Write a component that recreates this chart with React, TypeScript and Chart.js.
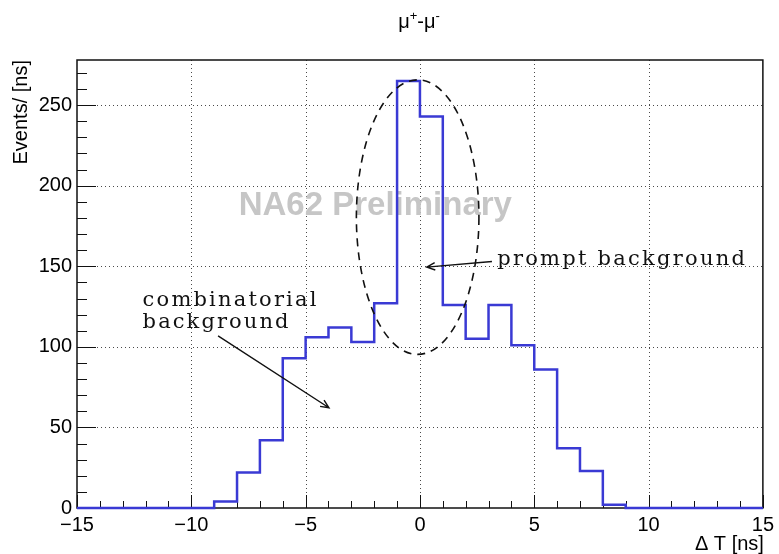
import { useEffect, useRef } from 'react';
import { Chart, registerables } from 'chart.js';

Chart.register(...registerables);

// ΔT histogram, 1 ns bins from -15 ns to +15 ns
const binLowEdges = [
  -15, -14, -13, -12, -11, -10, -9, -8, -7, -6, -5, -4, -3, -2, -1,
  0, 1, 2, 3, 4, 5, 6, 7, 8, 9, 10, 11, 12, 13, 14,
];
const binWidth = 1;
const eventCounts = [
  0, 0, 0, 0, 0, 0, 4, 22, 42, 93, 106, 112, 103, 127, 265,
  243, 126, 105, 126, 101, 86, 37, 23, 2, 0, 0, 0, 0, 0, 0,
];

const xRange = [-15, 15];
const yRange = [0, 278];
const xTickValues = [-15, -10, -5, 0, 5, 10, 15];
const yTickValues = [0, 50, 100, 150, 200, 250];
const xMinorStep = 1;
const yMinorStep = 10;

const plotTitle = ['μ', '+', '-', 'μ', '-'];
const plotTitleSup = [false, true, false, false, true];
const xTitle = 'Δ T [ns]';
const yTitle = 'Events/ [ns]';
const watermark = 'NA62 Preliminary';

// annotation anchors in data units (ns, events)
const promptEllipse = { cx: -0.1, cy: 180.5, rx: 2.68, ry: 85.2 };
const promptArrow = { from: [3.15, 153], to: [0.3, 149.5] };
const promptLabel = { text: 'prompt background', x: 3.38, y: 150.5 };
const combArrow = { from: [-8.83, 106.8], to: [-3.98, 62.2] };
const combLabel = [
  { text: 'combinatorial', x: -12.13, y: 125.4 },
  { text: 'background', x: -12.13, y: 111.4 },
];
const watermarkPos = { x: -7.93, y: 182.1 };

const SANS = '"Liberation Sans", Arial, Helvetica, sans-serif';
const SERIF = '"DejaVu Serif", "Liberation Serif", serif';
const HIST_BLUE = '#3a3ad4';

function drawArrow(ctx: CanvasRenderingContext2D, x0: number, y0: number, x1: number, y1: number) {
  ctx.beginPath();
  ctx.moveTo(x0, y0);
  ctx.lineTo(x1, y1);
  const ang = Math.atan2(y1 - y0, x1 - x0);
  const len = 9;
  const spread = 0.42;
  ctx.moveTo(x1 - len * Math.cos(ang - spread), y1 - len * Math.sin(ang - spread));
  ctx.lineTo(x1, y1);
  ctx.lineTo(x1 - len * Math.cos(ang + spread), y1 - len * Math.sin(ang + spread));
  ctx.stroke();
}

function fitText(ctx: CanvasRenderingContext2D, text: string, x: number, y: number, width: number) {
  const c = ctx as any;
  c.letterSpacing = '0px';
  const w = ctx.measureText(text).width;
  const sp = (width - w) / text.length;
  c.letterSpacing = `${sp}px`;
  ctx.fillText(text, x, y);
  c.letterSpacing = '0px';
}

const rootStyle = {
  id: 'rootStyle',
  beforeDatasetsDraw(chart: any) {
    const { ctx, chartArea: a, scales } = chart;
    const xs = scales.x;
    const ys = scales.y;
    ctx.save();

    // dotted grid at the major ticks
    ctx.strokeStyle = '#4a4a4a';
    ctx.lineWidth = 1;
    ctx.setLineDash([1, 3]);
    ctx.beginPath();
    for (const v of xTickValues) {
      if (v <= xRange[0] || v >= xRange[1]) continue;
      const px = Math.round(xs.getPixelForValue(v)) + 0.5;
      ctx.moveTo(px, a.top);
      ctx.lineTo(px, a.bottom);
    }
    for (const v of yTickValues) {
      if (v <= yRange[0] || v >= yRange[1]) continue;
      const py = Math.round(ys.getPixelForValue(v)) + 0.5;
      ctx.moveTo(a.left, py);
      ctx.lineTo(a.right, py);
    }
    ctx.stroke();
    ctx.setLineDash([]);

    // watermark
    ctx.fillStyle = '#c6c6c6';
    ctx.font = `bold 33px ${SANS}`;
    ctx.textAlign = 'left';
    ctx.textBaseline = 'alphabetic';
    ctx.fillText(watermark, xs.getPixelForValue(watermarkPos.x), ys.getPixelForValue(watermarkPos.y));

    // frame
    ctx.strokeStyle = '#111';
    ctx.lineWidth = 1.5;
    ctx.strokeRect(a.left, a.top, a.right - a.left, a.bottom - a.top);

    // inward ticks on the left and bottom axes
    ctx.lineWidth = 1;
    ctx.strokeStyle = '#111';
    ctx.beginPath();
    for (let v = yRange[0]; v <= yRange[1]; v += yMinorStep) {
      const py = Math.round(ys.getPixelForValue(v)) + 0.5;
      const major = yTickValues.includes(v);
      ctx.moveTo(a.left, py);
      ctx.lineTo(a.left + (major ? 19 : 10), py);
    }
    for (let v = xRange[0]; v <= xRange[1]; v += xMinorStep) {
      const px = Math.round(xs.getPixelForValue(v)) + 0.5;
      const major = xTickValues.includes(v);
      ctx.moveTo(px, a.bottom);
      ctx.lineTo(px, a.bottom - (major ? 13 : 7));
    }
    ctx.stroke();
    ctx.restore();
  },
  afterDatasetsDraw(chart: any) {
    const { ctx, chartArea: a, scales } = chart;
    const xs = scales.x;
    const ys = scales.y;
    const X = (v: number) => xs.getPixelForValue(v);
    const Y = (v: number) => ys.getPixelForValue(v);
    ctx.save();

    // dashed ellipse around the prompt peak
    ctx.strokeStyle = '#111';
    ctx.lineWidth = 1.6;
    ctx.setLineDash([8, 6]);
    const ecx = X(promptEllipse.cx);
    const ecy = Y(promptEllipse.cy);
    const erx = X(promptEllipse.cx + promptEllipse.rx) - ecx;
    const ery = ecy - Y(promptEllipse.cy + promptEllipse.ry);
    ctx.beginPath();
    ctx.ellipse(ecx, ecy, erx, ery, 0, 0, Math.PI * 2);
    ctx.stroke();
    ctx.setLineDash([]);

    // arrows
    ctx.lineWidth = 1.4;
    drawArrow(ctx, X(promptArrow.from[0]), Y(promptArrow.from[1]), X(promptArrow.to[0]), Y(promptArrow.to[1]));
    drawArrow(ctx, X(combArrow.from[0]), Y(combArrow.from[1]), X(combArrow.to[0]), Y(combArrow.to[1]));

    // labels
    ctx.fillStyle = '#111';
    ctx.font = `21px ${SERIF}`;
    ctx.textAlign = 'left';
    ctx.textBaseline = 'alphabetic';
    fitText(ctx, promptLabel.text, X(promptLabel.x), Y(promptLabel.y), 250);
    fitText(ctx, combLabel[0].text, X(combLabel[0].x), Y(combLabel[0].y), 176);
    fitText(ctx, combLabel[1].text, X(combLabel[1].x), Y(combLabel[1].y), 148);

    // plot title
    ctx.fillStyle = '#000';
    const big = `20px ${SANS}`;
    const small = `13px ${SANS}`;
    let total = 0;
    const widths: number[] = [];
    plotTitle.forEach((t, i) => {
      ctx.font = plotTitleSup[i] ? small : big;
      const w = ctx.measureText(t).width;
      widths.push(w);
      total += w;
    });
    let tx = 419 - total / 2;
    const baseY = 28;
    plotTitle.forEach((t, i) => {
      ctx.font = plotTitleSup[i] ? small : big;
      ctx.fillText(t, tx, plotTitleSup[i] ? baseY - 8 : baseY);
      tx += widths[i];
    });

    // axis titles
    ctx.font = `20px ${SANS}`;
    ctx.textAlign = 'right';
    ctx.fillText(xTitle, a.right + 1, 550);
    ctx.translate(27, a.top);
    ctx.rotate(-Math.PI / 2);
    ctx.textAlign = 'right';
    ctx.fillText(yTitle, 0, 0);
    ctx.restore();
  },
};

export default function App() {
  const canvasRef = useRef<HTMLCanvasElement | null>(null);

  useEffect(() => {
    document.body.style.margin = '0';
    const canvas = canvasRef.current;
    if (!canvas) return;

    // step outline: one point per bin low edge, closed at the upper edge
    const points = binLowEdges.map((x, i) => ({ x, y: eventCounts[i] }));
    const last = binLowEdges.length - 1;
    points.push({ x: binLowEdges[last] + binWidth, y: eventCounts[last] });

    const chart = new Chart(canvas, {
      type: 'line',
      data: {
        datasets: [
          {
            data: points,
            stepped: 'before',
            borderColor: HIST_BLUE,
            borderWidth: 2.5,
            pointRadius: 0,
            fill: false,
            clip: false as any,
          },
        ],
      },
      options: {
        animation: false,
        responsive: true,
        maintainAspectRatio: false,
        devicePixelRatio: 1,
        layout: { padding: { top: 60, right: 11, left: 0, bottom: 0 } },
        plugins: {
          legend: { display: false },
          tooltip: { enabled: false },
          title: { display: false },
        },
        scales: {
          x: {
            type: 'linear',
            min: xRange[0],
            max: xRange[1],
            grid: { display: false, drawTicks: false },
            border: { display: false },
            afterBuildTicks: (s: any) => {
              s.ticks = xTickValues.map((value) => ({ value }));
            },
            afterFit: (s: any) => {
              s.height = 46;
            },
            ticks: {
              autoSkip: false,
              maxRotation: 0,
              padding: 5,
              color: '#000',
              font: { family: SANS, size: 20 },
              callback: (v: any) => (v < 0 ? `\u2212${Math.abs(v)}` : `${v}`),
            },
          },
          y: {
            type: 'linear',
            min: yRange[0],
            max: yRange[1],
            grid: { display: false, drawTicks: false },
            border: { display: false },
            afterBuildTicks: (s: any) => {
              s.ticks = yTickValues.map((value) => ({ value }));
            },
            afterFit: (s: any) => {
              s.width = 77;
            },
            ticks: {
              padding: 5,
              color: '#000',
              font: { family: SANS, size: 20 },
            },
          },
        },
      },
      plugins: [rootStyle],
    });

    return () => chart.destroy();
  }, []);

  return (
    <div style={{ position: 'fixed', left: 0, top: 0, width: 779, height: 554, background: '#fff' }}>
      <canvas ref={canvasRef} />
    </div>
  );
}
